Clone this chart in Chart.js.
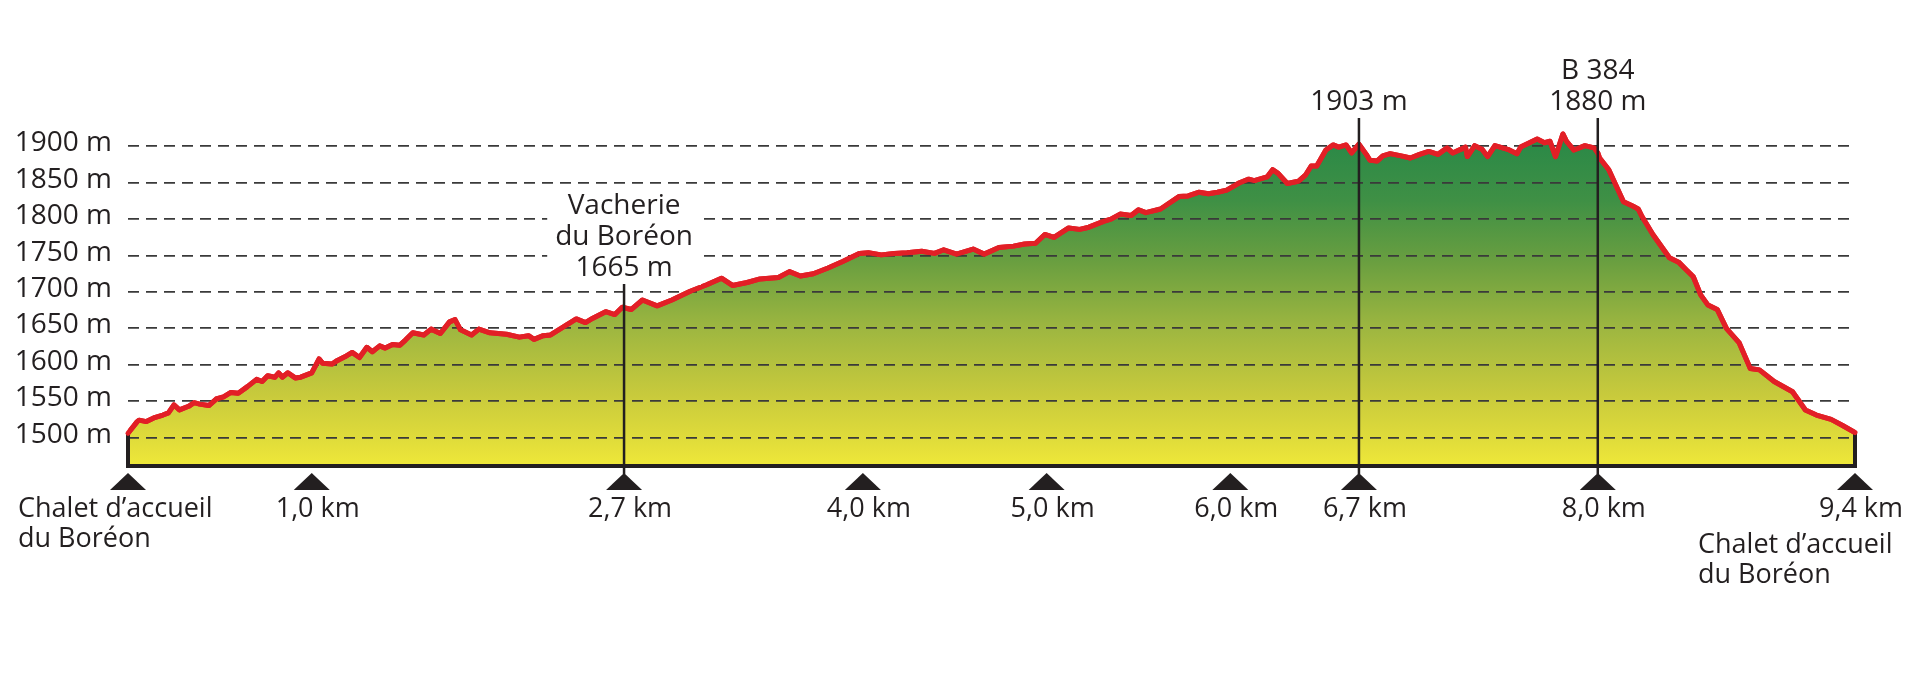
<!DOCTYPE html>
<html lang="fr">
<head>
<meta charset="UTF-8">
<title>Profil - Chalet d'accueil du Boréon</title>
<style>
  html, body { margin: 0; padding: 0; background: #fff; }
  #wrap { position: relative; width: 1920px; height: 686px; }
</style>
</head>
<body>
<div id="wrap"><canvas id="profil"></canvas></div>
<script src="https://cdn.jsdelivr.net/npm/chart.js@4.4.1/dist/chart.umd.min.js"></script>
<script>
// distance along the loop (km) and altitude (m)
const distKm = [
  0.00, 0.05, 0.06, 0.10, 0.14, 0.19, 0.22, 0.25, 0.28, 0.33, 0.36, 0.39, 0.44, 0.48, 0.52, 0.56,
  0.60, 0.65, 0.70, 0.73, 0.76, 0.80, 0.82, 0.84, 0.87, 0.91, 0.94, 1.00, 1.04, 1.06, 1.11, 1.14,
  1.18, 1.22, 1.26, 1.30, 1.33, 1.37, 1.40, 1.44, 1.48, 1.51, 1.55, 1.61, 1.65, 1.70, 1.75, 1.78,
  1.81, 1.87, 1.91, 1.97, 2.06, 2.13, 2.18, 2.21, 2.26, 2.30, 2.37, 2.44, 2.49, 2.53, 2.60, 2.65,
  2.69, 2.74, 2.80, 2.88, 2.96, 3.06, 3.15, 3.23, 3.29, 3.37, 3.44, 3.54, 3.60, 3.66, 3.73, 3.81,
  3.89, 3.98, 4.03, 4.10, 4.17, 4.24, 4.32, 4.39, 4.44, 4.51, 4.60, 4.66, 4.74, 4.82, 4.88, 4.94,
  4.99, 5.04, 5.12, 5.18, 5.23, 5.31, 5.35, 5.40, 5.46, 5.50, 5.54, 5.62, 5.72, 5.77, 5.83, 5.88,
  5.93, 5.98, 6.05, 6.10, 6.13, 6.20, 6.23, 6.26, 6.31, 6.37, 6.41, 6.44, 6.47, 6.52, 6.56, 6.59,
  6.63, 6.66, 6.70, 6.74, 6.76, 6.80, 6.83, 6.87, 6.93, 6.98, 7.03, 7.08, 7.13, 7.18, 7.21, 7.28,
  7.29, 7.33, 7.37, 7.40, 7.44, 7.51, 7.56, 7.58, 7.62, 7.67, 7.71, 7.74, 7.77, 7.81, 7.83, 7.87,
  7.93, 7.98, 8.00, 8.01, 8.06, 8.14, 8.19, 8.22, 8.24, 8.30, 8.39, 8.44, 8.48, 8.52, 8.56, 8.60,
  8.65, 8.70, 8.77, 8.83, 8.88, 8.96, 9.06, 9.13, 9.19, 9.27, 9.33, 9.40
];
const altitude = [
  1506, 1522, 1524, 1522, 1527, 1531, 1534, 1545, 1538, 1543, 1548, 1546, 1544, 1553, 1556, 1562,
  1561, 1570, 1580, 1577, 1585, 1583, 1589, 1583, 1589, 1582, 1583, 1589, 1608, 1602, 1601, 1606,
  1611, 1617, 1610, 1624, 1618, 1626, 1623, 1628, 1627, 1634, 1644, 1641, 1649, 1643, 1659, 1662,
  1648, 1641, 1649, 1644, 1642, 1638, 1640, 1635, 1640, 1641, 1652, 1663, 1658, 1664, 1673, 1669,
  1679, 1676, 1689, 1681, 1689, 1701, 1710, 1719, 1709, 1713, 1718, 1720, 1728, 1722, 1725, 1733,
  1742, 1753, 1754, 1751, 1753, 1754, 1756, 1753, 1758, 1752, 1759, 1752, 1761, 1763, 1766, 1767,
  1779, 1775, 1788, 1786, 1789, 1797, 1800, 1807, 1805, 1813, 1809, 1814, 1831, 1832, 1837, 1835,
  1837, 1840, 1850, 1855, 1853, 1858, 1868, 1863, 1849, 1852, 1861, 1873, 1873, 1895, 1902, 1899,
  1902, 1891, 1903, 1889, 1881, 1880, 1887, 1890, 1887, 1884, 1889, 1893, 1889, 1898, 1891, 1899,
  1886, 1901, 1896, 1886, 1901, 1896, 1890, 1899, 1904, 1910, 1905, 1907, 1886, 1917, 1907, 1895,
  1901, 1898, 1891, 1884, 1868, 1824, 1818, 1814, 1804, 1779, 1747, 1741, 1731, 1721, 1696, 1682,
  1676, 1650, 1630, 1595, 1593, 1577, 1563, 1538, 1531, 1525, 1517, 1507
];

const yTicks = [1500, 1550, 1600, 1650, 1700, 1750, 1800, 1850, 1900];
const xTicks = [0, 1.0, 2.7, 4.0, 5.0, 6.0, 6.7, 8.0, 9.4];
const xTickLabels = ['', '1,0 km', '2,7 km', '4,0 km', '5,0 km', '6,0 km', '6,7 km', '8,0 km', '9,4 km'];
const endName = ['Chalet d\u2019accueil', 'du Bor\u00e9on'];

const markerKm = [2.7, 6.7, 8.0];
const markerText = [['Vacherie', 'du Bor\u00e9on', '1665 m'], ['1903 m'], ['B 384', '1880 m']];

const ink = '#231f20';
const fontLabel = '28px "Open Sans"';
const fontAxis = '27px "Open Sans"';

// baseline of the last label line above each marker (px)
const markerBase = [276, 110, 110];

const profileDecor = {
  id: 'profileDecor',
  afterDraw(chart) {
    const { ctx, chartArea: area, scales: { x, y } } = chart;
    const bottom = area.bottom;

    ctx.save();
    // black frame under the profile
    ctx.strokeStyle = ink;
    ctx.lineWidth = 4;
    ctx.lineJoin = 'miter';
    const xa = x.getPixelForValue(distKm[0]);
    const xb = x.getPixelForValue(distKm[distKm.length - 1]);
    ctx.beginPath();
    ctx.moveTo(xa, y.getPixelForValue(altitude[0]));
    ctx.lineTo(xa, bottom);
    ctx.lineTo(xb, bottom);
    ctx.lineTo(xb, y.getPixelForValue(altitude[altitude.length - 1]));
    ctx.stroke();
    ctx.restore();

    // red profile back on top of the dashed grid
    ctx.save();
    chart.getDatasetMeta(0).dataset.draw(ctx, area);
    ctx.restore();

    ctx.save();
    // markers with their labels
    ctx.font = fontLabel;
    ctx.textAlign = 'center';
    ctx.textBaseline = 'alphabetic';
    markerKm.forEach((km, i) => {
      const px = x.getPixelForValue(km);
      const lines = markerText[i];
      const last = markerBase[i];
      const lh = 31;
      const w = Math.max(...lines.map(t => ctx.measureText(t).width));
      const top = last - lh * (lines.length - 1) - 28;
      ctx.fillStyle = '#fff';
      ctx.fillRect(px - w / 2 - 8, top, w + 16, last + 9 - top);
      ctx.fillStyle = ink;
      lines.forEach((t, j) => {
        ctx.fillText(t, px, last - lh * (lines.length - 1 - j));
      });
      ctx.strokeStyle = ink;
      ctx.lineWidth = 2.5;
      ctx.beginPath();
      ctx.moveTo(px, bottom + 8);
      ctx.lineTo(px, last + 8);
      ctx.stroke();
    });

    // distance ticks: triangles and labels
    ctx.fillStyle = ink;
    ctx.font = fontAxis;
    xTicks.forEach((km, i) => {
      const px = x.getPixelForValue(km);
      ctx.beginPath();
      ctx.moveTo(px, bottom + 7);
      ctx.lineTo(px - 18, bottom + 24);
      ctx.lineTo(px + 18, bottom + 24);
      ctx.closePath();
      ctx.fill();
      if (xTickLabels[i]) {
        ctx.textAlign = 'center';
        ctx.fillText(xTickLabels[i], px + 6, bottom + 51);
      }
    });

    // start / finish names
    ctx.textAlign = 'left';
    const p0 = x.getPixelForValue(xTicks[0]);
    ctx.fillText(endName[0], p0 - 110, bottom + 51);
    ctx.fillText(endName[1], p0 - 110, bottom + 81);
    const p1 = x.getPixelForValue(xTicks[xTicks.length - 1]);
    ctx.fillText(endName[0], p1 - 157, bottom + 87);
    ctx.fillText(endName[1], p1 - 157, bottom + 117);
    ctx.restore();
  }
};

function profileGradient(context) {
  const chart = context.chart;
  const area = chart.chartArea;
  if (!area) return null;
  const top = chart.scales.y.getPixelForValue(1905);
  const g = chart.ctx.createLinearGradient(0, top, 0, area.bottom);
  g.addColorStop(0, '#2b8947');
  g.addColorStop(0.18, '#3f9045');
  g.addColorStop(0.37, '#6a9f40');
  g.addColorStop(0.58, '#9fb740');
  g.addColorStop(0.78, '#c8ca3c');
  g.addColorStop(0.94, '#e4df3a');
  g.addColorStop(1, '#efe839');
  return g;
}

new Chart(document.getElementById('profil'), {
  type: 'line',
  data: {
    datasets: [{
      data: distKm.map((d, i) => ({ x: d, y: altitude[i] })),
      borderColor: '#e21f26',
      borderWidth: 5,
      borderJoinStyle: 'round',
      borderCapStyle: 'round',
      pointRadius: 0,
      tension: 0,
      fill: 'start',
      backgroundColor: profileGradient
    }]
  },
  options: {
    responsive: true,
    maintainAspectRatio: false,
    animation: false,
    events: [],
    layout: { padding: { top: 20, right: 65, bottom: 220, left: 0 } },
    plugins: { legend: { display: false }, tooltip: { enabled: false } },
    scales: {
      x: { type: 'linear', min: 0, max: 9.4, display: false },
      y: {
        type: 'linear',
        min: 1461,
        max: 2056,
        afterBuildTicks: s => { s.ticks = yTicks.map(v => ({ value: v })); },
        afterFit: s => { s.width = 128; },
        ticks: {
          autoSkip: false,
          callback: v => v + ' m',
          font: { family: 'Open Sans', size: 28 },
          color: ink,
          padding: 16,
          labelOffset: -3
        },
        grid: { color: '#3a3a3a', lineWidth: 1.8, drawTicks: false, z: 1 },
        border: { display: false, dash: [11, 7] }
      }
    }
  },
  plugins: [profileDecor]
});
</script>
</body>
</html>
